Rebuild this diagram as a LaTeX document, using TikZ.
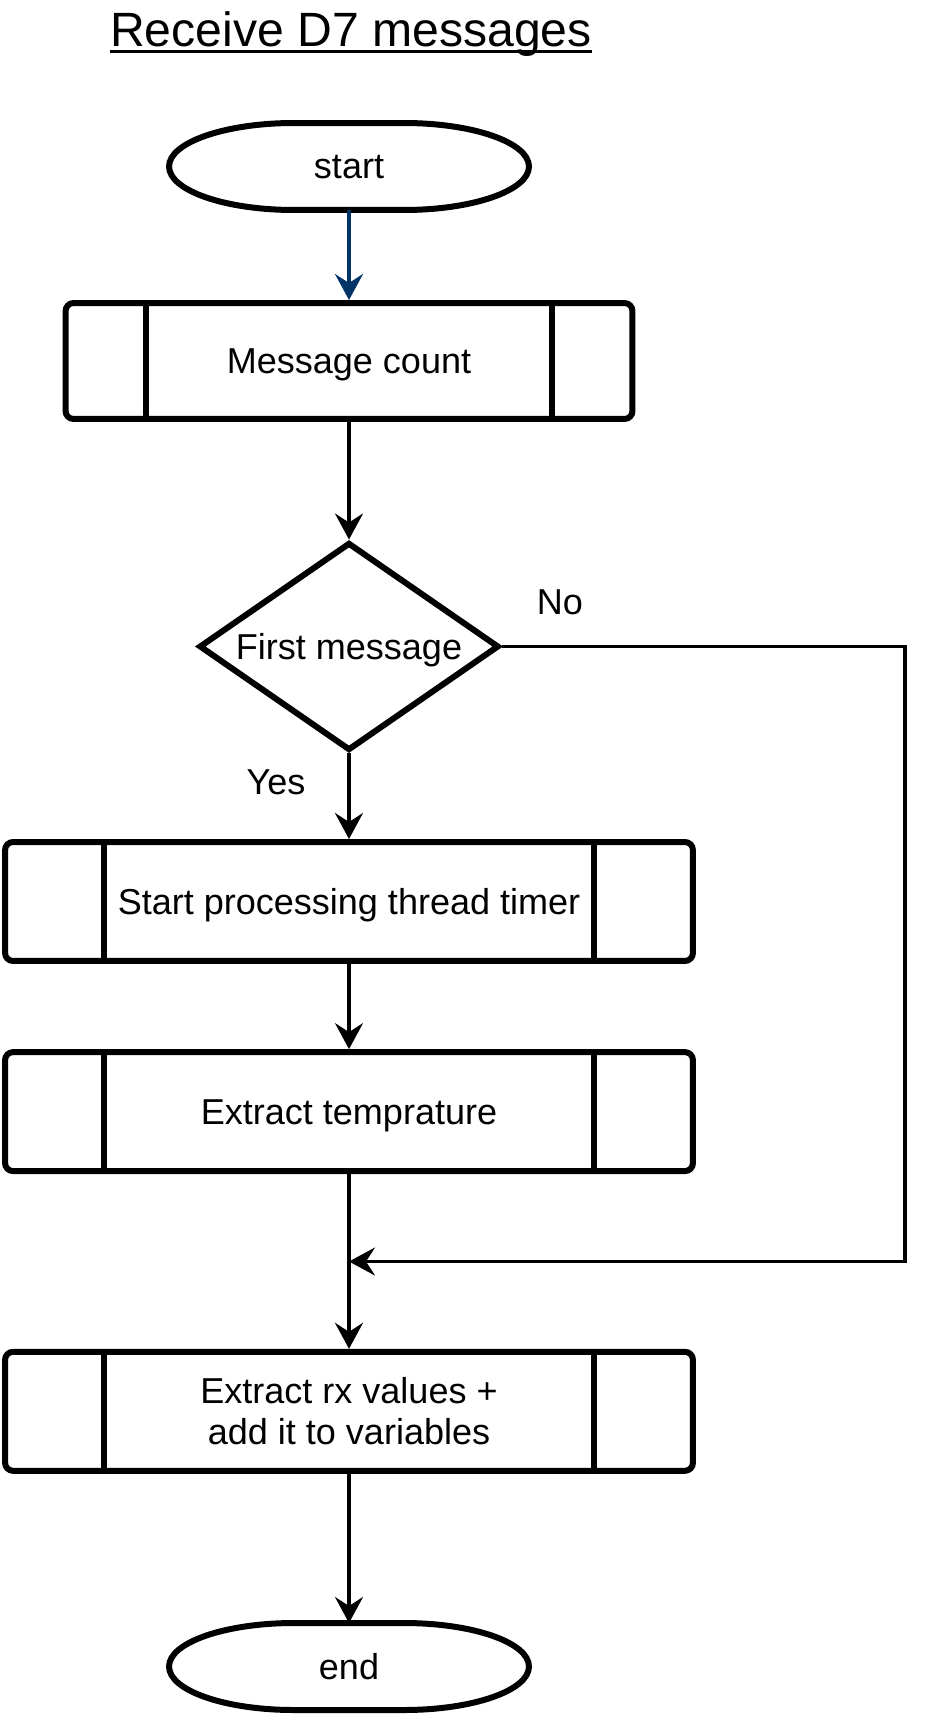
\documentclass[tikz,border=0pt]{standalone}
\usepackage{fontspec}
\setmainfont{Liberation Sans}
\usetikzlibrary{shapes.geometric,arrows.meta}

\definecolor{startblue}{RGB}{0,51,102}

\tikzset{
    every node/.style={font=\fontsize{20.5}{23}\selectfont},
    term/.style={minimum width=7.2cm, minimum height=1.74cm, inner sep=0pt, outer sep=0pt, text depth=0pt},
    subproc/.style={draw, line width=0.12cm, rounded corners=0.16cm, align=center,
        minimum width=13.76cm, minimum height=2.38cm,
        path picture={
            \draw[line width=0.12cm]
                ([xshift=#1]path picture bounding box.north west) -- ([xshift=#1]path picture bounding box.south west)
                ([xshift=-#1]path picture bounding box.north east) -- ([xshift=-#1]path picture bounding box.south east);
        }},
    decision/.style={diamond, draw, line width=0.12cm, aspect=1.45, minimum width=6.0cm, minimum height=4.16cm,
        inner sep=0pt, text depth=0pt},
    conn/.style={line width=0.065cm, -{Stealth[length=0.52cm, width=0.56cm, inset=0.18cm]}}
}

% outline of start / end
\newcommand{\termshape}[1]{
    \draw[line width=0.12cm] ([xshift=2.5cm]#1.north west) -- ([xshift=-2.5cm]#1.north east)
        arc[start angle=90, end angle=-90, x radius=2.5cm, y radius=0.87cm]
        -- ([xshift=2.5cm]#1.south west)
        arc[start angle=270, end angle=90, x radius=2.5cm, y radius=0.87cm] -- cycle;
}

\begin{document}
\begin{tikzpicture}[x=0.02cm, y=-0.02cm]
    \useasboundingbox (0, 0) rectangle (930, 1716);

    \node[anchor=base, inner sep=0pt, font=\fontsize{27.4}{31}\selectfont] (title) at (351, 47) {Receive D7 messages};
    \draw[line width=0.06cm] ([yshift=-0.1cm]title.base west) -- ([yshift=-0.1cm]title.base east);

    \node[term] (start) at (349, 166.5) {start};
    \node[subproc=1.6cm, minimum width=11.34cm, minimum height=2.32cm, text depth=0pt] (msgcount) at (349, 361) {Message count};
    \node[decision] (firstmsg) at (349, 646.5) {First message};
    \node[subproc=1.98cm, text depth=0pt] (timer) at (349, 901.5) {Start processing thread timer};
    \node[subproc=1.98cm, text depth=0pt] (temp) at (349, 1111.6) {Extract temprature};
    \node[subproc=1.98cm] (rxvals) at (349, 1411.3) {Extract rx values +\\add it to variables};
    \node[term] (finish) at (349, 1666.5) {end};

    \termshape{start}
    \termshape{finish}

    \coordinate (noturn) at (905, 1261.5);
    \coordinate (merge) at (349, 1261.5);

    \draw[conn, startblue] (start.south) -- (msgcount.north);
    \draw[conn] (msgcount.south) -- (firstmsg.north);
    \draw[conn] (firstmsg.south) -- (timer.north);
    \draw[conn] (timer.south) -- (temp.north);
    \draw[conn] (temp.south) -- (rxvals.north);
    \draw[conn] (firstmsg.east) -| (noturn) -- (merge);
    \draw[conn] (rxvals.south) -- (finish.north);

    \node (no) at (560, 602) {No};
    \node (yes) at (276, 782) {Yes};
\end{tikzpicture}
\end{document}
